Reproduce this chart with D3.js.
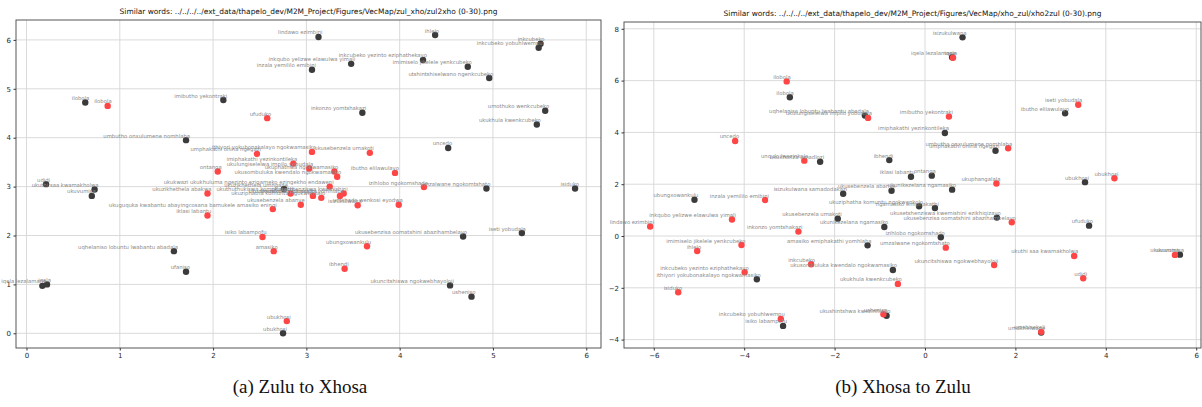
<!DOCTYPE html>
<html><head><meta charset="utf-8">
<script src="https://cdn.jsdelivr.net/npm/d3@7"></script>
<style>body{margin:0;background:#fff}svg{display:block}</style>
</head><body><svg id="c" width="1202" height="407"></svg>
<script>
// ---------- Panel (a) Zulu to Xhosa ----------
const aTitle = "Similar words: ../../../../ext_data/thapelo_dev/M2M_Project/Figures/VecMap/zul_xho/zul2xho (0-30).png";
const aCaption = "(a) Zulu to Xhosa";
const aXTicks = [0,1,2,3,4,5,6];
const aYTicks = [0,1,2,3,4,5,6];
const aBlackWords = ["lindawo ezimbini","ihlelo","inkcubeko","inkcubeko yobuhlwempu","inkqubo yelizwe elawulwa yimali","inzala yemililo emibini","imimiselo jikelele yenkcubeko","inkcubeko yezinto eziphathekayo","utshintshiselwano ngenkcubeko","imibutho yekontraki","ilobola","inkonzo yomtshakazi","umothuko wenkcubeko","ukukhula kwenkcubeko","umbutho onxulumene nomhlaba","uncedo","udidi","ukuthi saa kwamakholwa","ukuvumisa","umzalwane ngokomtshato","isiduko","iseti yobudala","ukusebenzisa oomatshini abazihambelayo","uqhelaniso lobuntu lwabantu abadala","ufaniso","ukuncitshiswa ngokwebhayoloji","usheniso","iqela lezalamane","iqela","ubukhosi","ukuzikhethela umngane"];
const aBlackX = [3.13,4.38,5.51,5.49,3.48,3.06,4.73,4.25,4.96,2.11,0.63,3.60,5.56,5.47,1.71,4.52,0.21,0.73,0.70,4.93,5.88,5.31,4.68,1.58,1.71,4.54,4.77,0.17,0.22,2.75,2.76];
const aBlackY = [6.06,6.10,5.92,5.84,5.51,5.39,5.45,5.59,5.22,4.77,4.72,4.51,4.55,4.27,3.95,3.79,3.05,2.94,2.81,2.96,2.96,2.05,1.98,1.68,1.26,0.98,0.75,0.97,1.00,0.00,2.95];
const aRedWords = ["ilobola","ufuduko","ithiyori yokubonakalayo ngokwamasiko","ukusebenzela umakoti","umphakathi onina ngegazi","imiphakathi yezinkontileka","ukulungiselelwa impilo yobudala","ukuphathwa ngokwamasiko","ukusombuluka kwendalo ngokwamasiko","ibutho elilawulayo","ontanga","izihlobo ngokomshado","ukukwazi ukukhuluma ngezinto ezigameko ezingekho endaweni","ukuzikhethela abakwa","iklasi labantu","ukuguquka kwabantu abayingcosana bamukele amasiko eningi","ukusebenzela abanye","isiko labampofu","amasiko","ubungxowankulu","ibhendi","ubukhosi","isizukulwana","umshado wenkosi eyodwa","ukunikezelana ngamasiko","ukuziphatha komuntu ngokwenkolo","amasiko emiphakathi yomhlaba","ukusetshenziswa kwemishini","ukuthuthukiswa komphakathi"];
const aRedX = [0.87,2.58,3.06,3.68,2.47,2.86,3.03,3.30,3.33,3.95,2.05,4.26,3.25,1.94,1.94,2.64,2.94,2.53,2.65,3.65,3.41,2.79,3.55,3.99,3.07,3.16,3.36,3.40,2.83];
const aRedY = [4.65,4.40,3.71,3.69,3.67,3.47,3.37,3.31,3.20,3.28,3.31,2.99,3.00,2.86,2.41,2.54,2.63,1.97,1.68,1.78,1.32,0.25,2.62,2.63,2.81,2.77,2.81,2.86,2.86];

// ---------- Panel (b) Xhosa to Zulu ----------
const bTitle = "Similar words: ../../../../ext_data/thapelo_dev/M2M_Project/Figures/VecMap/xho_zul/xho2zul (0-30).png";
const bCaption = "(b) Xhosa to Zulu";
const bXTicks = [-6,-4,-2,0,2,4,6];
const bYTicks = [-4,-2,0,2,4,6,8];
const bBlackWords = ["isizukulwana","iqela lezalamane","ilobola","uqhelaniso lobuntu lwabantu abadala","imiphakathi yezinkontileka","umphakathi onina ngegazi","ibutho elilawulayo","ibhendi","ukukhonza amadlozi","iklasi labantu","ontanga","ubukhosi","ufuduko","ukusetshenziswa kwemishini ezikhiqizayo","ukuvumisa","umakhelwane","ukushintshwa kwezinhlobo","ukusombuluka kwendalo ngokwamasiko","izihlobo ngokomshado","amasiko emiphakathi yomhlaba","ukunikezelana ngamasiko","ukusebenzela umakoti","isizukulwana samadodakazi","ukusebenzela abanye","ukuziphatha komuntu ngokwenkolo","ngamasiko emiphakathi","ukunikezelana ngamasiko","ubungxowankulu","ithiyori yokubonakalayo ngokwamasiko","isiko labampofu"];
const bBlackX = [0.83,0.60,-2.99,-1.33,0.44,1.56,3.10,-0.79,-2.32,-0.31,0.15,3.54,3.63,1.59,5.64,2.57,-0.85,-0.71,0.35,-1.27,-0.90,-1.93,-1.81,-0.74,-0.13,0.22,0.60,-5.10,-3.72,-3.14];
const bBlackY = [7.67,6.90,5.36,4.65,3.98,3.29,4.74,2.93,2.87,2.29,2.33,2.08,0.40,0.71,-0.72,-3.73,-3.08,-1.31,-0.05,-0.36,0.35,0.67,1.63,1.75,1.15,1.08,1.79,1.40,-1.67,-3.47];
const bRedWords = ["iqela","ilobola","ukulungiselelwa impilo yobudala","imibutho yekontraki","iseti yobudala","uncedo","unqulo lwezinkolo","umbutho onxulumene nomhlaba","ubukhosi","ukuphangalala","ukusebenzisa oomatshini abazihambelayo","ukuthi saa kwamakholwa","udidi","ukuvumisa","umshisekeli","usheniso","ukukhula kwenkcubeko","inkcubeko","ukuncitshiswa ngokwebhayoloji","umzalwane ngokomtshato","inkonzo yomtshakazi","inzala yemililo emibini","inkqubo yelizwe elawulwa yimali","lindawo ezimbini","imimiselo jikelele yenkcubeko","ihlelo","inkcubeko yezinto eziphathekayo","isiduko","inkcubeko yobuhlwempu"];
const bRedX = [0.62,-3.06,-1.26,0.53,3.39,-4.20,-2.67,1.84,4.19,1.58,1.92,3.30,3.50,5.53,2.57,-0.92,-0.60,-2.52,1.53,0.46,-2.80,-3.54,-4.27,-6.08,-4.06,-5.04,-3.99,-5.46,-3.19];
const bRedY = [6.88,5.97,4.56,4.61,5.07,3.67,2.91,3.39,2.23,2.03,0.53,-0.77,-1.63,-0.73,-3.70,-3.02,-1.85,-1.09,-1.12,-0.45,0.17,1.39,0.64,0.37,-0.35,-0.58,-1.40,-2.17,-3.20];

const svg = d3.select("#c");
const BLACK = "#3b3b3b", RED = "#ff4646";

function panel(o){
  const x = d3.scaleLinear().domain(o.xd).range([o.l, o.r]);
  const y = d3.scaleLinear().domain(o.yd).range([o.b, o.t]);
  const g = svg.append("g");
  g.selectAll(".gx").data(o.xt).join("line")
    .attr("x1", d=>x(d)).attr("x2", d=>x(d)).attr("y1", o.t).attr("y2", o.b)
    .attr("stroke", "#d6d6d6").attr("stroke-width", 0.9);
  g.selectAll(".gy").data(o.yt).join("line")
    .attr("y1", d=>y(d)).attr("y2", d=>y(d)).attr("x1", o.l).attr("x2", o.r)
    .attr("stroke", "#d6d6d6").attr("stroke-width", 0.9);
  const fmt = d => d < 0 ? "\u2212" + Math.abs(d) : String(d);
  const ax = g.append("g").attr("transform", `translate(0,${o.b})`)
    .call(d3.axisBottom(x).tickValues(o.xt).tickFormat(fmt).tickSize(2.5).tickPadding(3));
  const ay = g.append("g").attr("transform", `translate(${o.l},0)`)
    .call(d3.axisLeft(y).tickValues(o.yt).tickFormat(fmt).tickSize(2.5).tickPadding(2.5));
  [ax, ay].forEach(a => {
    a.select(".domain").remove();
    a.selectAll("text").attr("font-family", "DejaVu Sans").attr("font-size", 7).attr("fill", "#262626");
    a.selectAll("line").attr("stroke", "#333");
  });
  g.append("rect").attr("x", o.l).attr("y", o.t).attr("width", o.r - o.l).attr("height", o.b - o.t)
    .attr("fill", "none").attr("stroke", "#444").attr("stroke-width", 0.9);
  const sets = [[o.bw, o.bx, o.by, BLACK], [o.rw, o.rx, o.ry, RED]];
  sets.forEach(([w, xs, ys, col]) => {
    const data = w.map((t, i) => ({t, x: xs[i], y: ys[i]}));
    g.append("g").selectAll("circle").data(data).join("circle")
      .attr("cx", d => x(d.x)).attr("cy", d => y(d.y)).attr("r", 3.2).attr("fill", col);
  });
  sets.forEach(([w, xs, ys]) => {
    const data = w.map((t, i) => ({t, x: xs[i], y: ys[i]}));
    g.append("g").selectAll("text").data(data).join("text")
      .attr("x", d => x(d.x) + 4).attr("y", d => y(d.y) - 2.5)
      .attr("text-anchor", "end").attr("font-family", "DejaVu Sans").attr("font-size", 5.3)
      .attr("fill", "#888").text(d => d.t);
  });
  g.append("text").attr("x", (o.l + o.r) / 2).attr("y", o.t - 6).attr("text-anchor", "middle")
    .attr("font-family", "DejaVu Sans").attr("font-size", 7.45).attr("fill", "#111").text(o.title);
  g.append("text").attr("x", o.cx).attr("y", 393).attr("text-anchor", "middle")
    .attr("font-family", "Liberation Serif").attr("font-size", 19).attr("fill", "#111").text(o.caption);
}

panel({l:16, r:601, t:20, b:348, xd:[-0.1125, 6.158], yd:[-0.3006, 6.407], xt:aXTicks, yt:aYTicks,
  bw:aBlackWords, bx:aBlackX, by:aBlackY, rw:aRedWords, rx:aRedX, ry:aRedY, title:aTitle, caption:aCaption, cx:300});
panel({l:624, r:1201, t:22, b:348, xd:[-6.659, 6.106], yd:[-4.324, 8.263], xt:bXTicks, yt:bYTicks,
  bw:bBlackWords, bx:bBlackX, by:bBlackY, rw:bRedWords, rx:bRedX, ry:bRedY, title:bTitle, caption:bCaption, cx:903});
</script></body></html>
